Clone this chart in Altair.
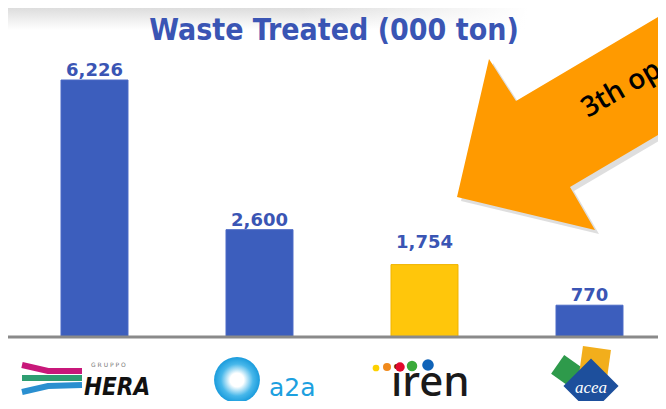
import altair as alt
import pandas as pd

# ---- chart values ----
companies = ["HERA", "a2a", "iren", "acea"]
waste = [6226, 2600, 1754, 770]
value_labels = ["6,226", "2,600", "1,754", "770"]
title_text = "Waste Treated (000 ton)"
callout_text = "3th op"

BLUE = "#3C5EBD"
YELLOW = "#FFC60B"
LABEL = "#3A55B4"

W, H = 650, 393

df = pd.DataFrame({"company": companies, "waste": waste, "label": value_labels})

xscale = alt.Scale(domain=companies, range=[4, 664], paddingInner=0.594, paddingOuter=0.297)
yscale = alt.Scale(domain=[0, 6226], range=[329, 72], nice=False, zero=True)
colscale = alt.Scale(domain=companies, range=[BLUE, BLUE, YELLOW, BLUE])
strokescale = alt.Scale(domain=companies, range=["#4A69C6", "#4A69C6", "#F0B300", "#4A69C6"])

# ---- decorations (pixel geometry) ----
arrow_x = [449, 481, 508, 662, 662, 562, 587, 449]
arrow_y = [189, 51, 93, 2, 120, 179, 222, 189]
arrow_df = pd.DataFrame({"i": list(range(len(arrow_x))), "x": arrow_x, "y": arrow_y})
shadow_df = pd.DataFrame({"i": list(range(len(arrow_x))),
                          "x": [v + 4 for v in arrow_x], "y": [v + 4 for v in arrow_y]})

one = pd.DataFrame({"t": [""]})

bg_v = alt.Chart(one).mark_rect(
    fill={"gradient": "linear", "x1": 0, "y1": 0, "x2": 0, "y2": 1,
          "stops": [{"offset": 0, "color": "#dddddd"}, {"offset": 1, "color": "#ffffff"}]}
).encode(x=alt.value(0), x2=alt.value(W), y=alt.value(0), y2=alt.value(22))
bg_h = alt.Chart(one).mark_rect(
    fill={"gradient": "linear", "x1": 0, "y1": 0, "x2": 1, "y2": 0,
          "stops": [{"offset": 0, "color": "rgba(255,255,255,0)"},
                    {"offset": 0.45, "color": "rgba(255,255,255,0)"},
                    {"offset": 0.8, "color": "rgba(255,255,255,1)"},
                    {"offset": 1, "color": "rgba(255,255,255,1)"}]}
).encode(x=alt.value(0), x2=alt.value(W), y=alt.value(0), y2=alt.value(22))

title = alt.Chart(pd.DataFrame({"t": [title_text]})).mark_text(
    font="DejaVu Sans Condensed", fontWeight="bold", fontSize=30, color=LABEL, align="center",
    baseline="alphabetic"
).encode(x=alt.value(326), y=alt.value(32), text="t:N")

bars = alt.Chart(df).mark_bar(strokeWidth=1).encode(
    x=alt.X("company:N", scale=xscale, axis=None, sort=companies),
    y=alt.Y("waste:Q", scale=yscale, axis=None),
    color=alt.Color("company:N", scale=colscale, legend=None),
    stroke=alt.Stroke("company:N", scale=strokescale, legend=None),
)

labels_main = alt.Chart(df).transform_filter(alt.datum.company != "iren").mark_text(
    font="DejaVu Sans", fontWeight="bold", fontSize=18, color=LABEL, baseline="alphabetic", dy=-4
).encode(
    x=alt.X("company:N", scale=xscale, axis=None, sort=companies),
    y=alt.Y("waste:Q", scale=yscale, axis=None),
    text="label:N",
)
labels_iren = alt.Chart(df).transform_filter(alt.datum.company == "iren").mark_text(
    font="DejaVu Sans", fontWeight="bold", fontSize=18, color=LABEL, baseline="alphabetic", dy=-17
).encode(
    x=alt.X("company:N", scale=xscale, axis=None, sort=companies),
    y=alt.Y("waste:Q", scale=yscale, axis=None),
    text="label:N",
)

baseline = alt.Chart(pd.DataFrame({"v": [0]})).mark_rule(color="#8A8A8A", strokeWidth=3).encode(
    y=alt.Y("v:Q", scale=yscale, axis=None), x=alt.value(0), x2=alt.value(W)
)

shadow = alt.Chart(shadow_df).mark_line(fill="#a0a0a0", fillOpacity=0.35, strokeWidth=0).encode(
    x=alt.X("x:Q", scale=None), y=alt.Y("y:Q", scale=None), order=alt.Order("i:Q")
)
arrow = alt.Chart(arrow_df).mark_line(fill="#FF9A00", strokeWidth=0).encode(
    x=alt.X("x:Q", scale=None), y=alt.Y("y:Q", scale=None), order=alt.Order("i:Q")
)
callout = alt.Chart(pd.DataFrame({"t": [callout_text]})).mark_text(
    font="Open Sans", fontWeight=600, fontSize=28, color="#000000", align="left", baseline="alphabetic",
    angle=330
).encode(x=alt.value(580), y=alt.value(110), text="t:N")

# ---- logo approximations ----
hera_x = [14, 40, 74, 14, 40, 74, 14, 40, 74]
hera_y = [25, 31, 31, 38, 38, 38, 52, 46, 45]
hera_df = pd.DataFrame({"x": hera_x, "y": [v + 340 - 8 for v in hera_y], "k": ["m"] * 3 + ["g"] * 3 + ["b"] * 3,
                        "i": [0, 1, 2] * 3})
hera_stripes = alt.Chart(hera_df).mark_line(strokeWidth=6).encode(
    x=alt.X("x:Q", scale=None), y=alt.Y("y:Q", scale=None), order=alt.Order("i:Q"),
    detail="k:N",
    color=alt.Color("k:N", scale=alt.Scale(domain=["m", "g", "b"], range=["#C8187A", "#2E9E72", "#2A8FD0"]), legend=None),
)
hera_text = alt.Chart(pd.DataFrame({"t": ["HERA"]})).mark_text(
    font="DejaVu Sans Condensed", fontWeight="bold", fontStyle="italic", fontSize=24, color="#111111",
    align="left", baseline="alphabetic").encode(x=alt.value(76), y=alt.value(387), text="t:N")
gruppo_text = alt.Chart(pd.DataFrame({"t": ["G  R  U  P  P  O"]})).mark_text(
    font="DejaVu Sans", fontSize=6, color="#777777", align="left", baseline="alphabetic"
).encode(x=alt.value(83), y=alt.value(359), text="t:N")

a2a_burst = alt.Chart(one).mark_point(
    shape="circle", filled=True, size=2100, opacity=1, strokeWidth=0,
    fill={"gradient": "radial", "x1": 0.5, "y1": 0.5, "r1": 0, "x2": 0.5, "y2": 0.5, "r2": 0.5,
          "stops": [{"offset": 0, "color": "#ffffff"}, {"offset": 0.3, "color": "#ffffff"},
                    {"offset": 0.7, "color": "#47B7EA"}, {"offset": 1, "color": "#1A9BDC"}]}
).encode(x=alt.value(229), y=alt.value(372))
a2a_text = alt.Chart(pd.DataFrame({"t": ["a2a"]})).mark_text(
    font="DejaVu Sans", fontSize=25, color="#1DA0DF", align="left", baseline="alphabetic"
).encode(x=alt.value(261), y=alt.value(388), text="t:N")

iren_text = alt.Chart(pd.DataFrame({"t": ["iren"]})).mark_text(
    font="Noto Sans", fontWeight=500, fontSize=42, color="#1a1a1a", align="left", baseline="alphabetic"
).encode(x=alt.value(383), y=alt.value(388), text="t:N")
iren_dots = alt.Chart(pd.DataFrame({
    "x": [368, 379, 392, 404, 420], "y": [360, 359, 359, 358, 357],
    "s": [45, 64, 90, 110, 135], "c": ["y", "o", "r", "g", "b"]})).mark_point(
    shape="circle", filled=True, opacity=1).encode(
    x=alt.X("x:Q", scale=None), y=alt.Y("y:Q", scale=None),
    size=alt.Size("s:Q", scale=None, legend=None),
    color=alt.Color("c:N", scale=alt.Scale(domain=["y", "o", "r", "g", "b"],
                    range=["#FDD100", "#F08A1C", "#E20A2D", "#3BAA3A", "#1063B8"]), legend=None),
)

acea_sq = alt.Chart(pd.DataFrame({
    "x": [559, 587, 583], "y": [363, 354, 378], "s": [520, 800, 1520], "a": [35, 8, 45], "c": ["g", "y", "b"],
    "i": [0, 1, 2]})).mark_point(shape="square", filled=True, opacity=1).encode(
    x=alt.X("x:Q", scale=None), y=alt.Y("y:Q", scale=None),
    size=alt.Size("s:Q", scale=None, legend=None),
    angle=alt.Angle("a:Q", scale=None),
    order=alt.Order("i:Q"),
    color=alt.Color("c:N", scale=alt.Scale(domain=["g", "y", "b"], range=["#2E9A4B", "#F2AE1C", "#1D4F9C"]), legend=None),
)
acea_text = alt.Chart(pd.DataFrame({"t": ["acea"]})).mark_text(
    font="Liberation Serif", fontStyle="italic", fontSize=17, color="#ffffff", align="center", baseline="alphabetic"
).encode(x=alt.value(583), y=alt.value(385), text="t:N")

chart = alt.layer(
    bg_v, bg_h, title, bars, baseline, labels_main, labels_iren, shadow, arrow, callout,
    hera_stripes, hera_text, gruppo_text, a2a_burst, a2a_text, iren_text, iren_dots, acea_sq, acea_text,
).resolve_scale(x="independent", y="independent", color="independent", size="independent").properties(
    width=W, height=H, autosize=alt.AutoSizeParams(type="none"), padding=0, background="#ffffff"
).configure_view(strokeWidth=0)

chart.save("out.html", embed_options={"renderer": "svg", "actions": False})
